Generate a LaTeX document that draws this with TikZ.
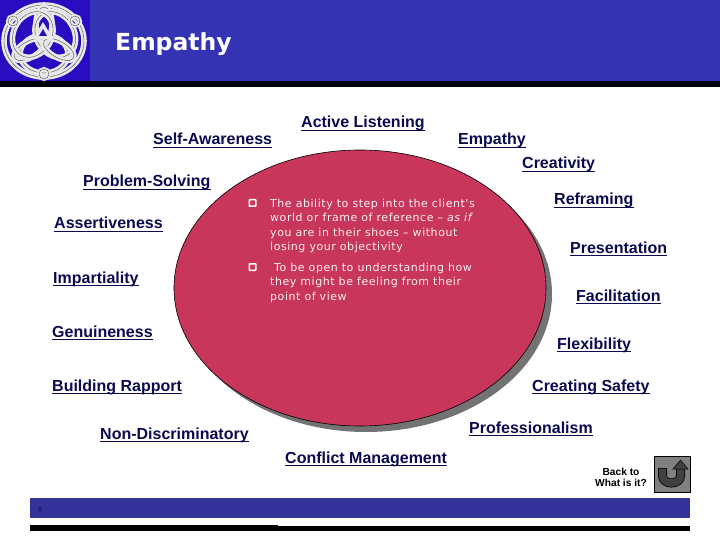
\documentclass[tikz,border=0pt]{standalone}
\usepackage{fontspec}
\setmainfont{Liberation Sans}
\newfontfamily\bodyfont[LetterSpace=5]{DejaVu Sans}
\newfontfamily\headfont{DejaVu Sans}
\usepackage{tikz}
\usetikzlibrary{shapes.geometric,arrows.meta,positioning}
\definecolor{navy}{HTML}{0A0A50}
\definecolor{bar}{HTML}{3333B4}
\definecolor{footbar}{HTML}{333399}
\definecolor{logoblue}{HTML}{2A0CC0}
\definecolor{rose}{HTML}{C9365C}
\definecolor{knot}{HTML}{E8E8E8}

\begin{document}
\begin{tikzpicture}[
    x=1pt, y=-1pt,
    skill/.style={anchor=base west, inner sep=0pt, text=navy, font=\fontsize{16}{18}\selectfont\bfseries},
    para/.style={anchor=north west, inner sep=0pt, align=left, text=white!92!rose, font=\bodyfont\fontsize{11}{14.5}\selectfont},
    tick/.style={draw=white, line width=1.5pt, fill=rose, minimum size=6.5pt, inner sep=0pt, rounded corners=0.5pt},
    cord/.style={draw=knot, line width=2.6pt, double=gray!60!black, double distance=0.4pt}
]
\useasboundingbox (0,0) rectangle (720,540);

% header
\fill[bar] (90,0) rectangle (720,81);
\fill[logoblue] (0,0) rectangle (90,81);
\fill[black] (0,81) rectangle (720,87);
\node[anchor=west, inner sep=0pt, text=white, font=\headfont\fontsize{23.5}{26}\selectfont\bfseries] (title) at (115,44) {Empathy};

% knot
\draw[cord] (44,41) ellipse (40 and 36);
\foreach \r in {0,120,240} {
  \draw[cord, rotate around={\r:(44,41)}] (44,54) ellipse (24 and 19);
  \draw[cord, rotate around={\r:(44,41)}] (44,24) ellipse (8 and 17);
}
\foreach \x/\y in {13/21, 75/21, 44/74}
  \draw[cord, line width=1.8pt] (\x,\y) circle (5);
\fill[knot] (43,22) -- (53,39) -- (33,39) -- cycle;
\fill[logoblue] (43,29) -- (47,36) -- (39,36) -- cycle;

% bubble
\node[ellipse, fill=gray!90!black, minimum width=372pt, minimum height=276pt, inner sep=0pt] (shade) at (366,294) {};
\node[ellipse, draw=black, line width=0.6pt, fill=rose, minimum width=372pt, minimum height=276pt, inner sep=0pt] (core) at (360,288) {};

\node[tick] (tick1) at (252.5,203) {};
\node[tick] (tick2) at (252.5,267) {};
\node[para] (para1) at (270,198.5) {The ability to step into the client's\\world or frame of reference – \textit{as if}\\you are in their shoes – without\\losing your objectivity};
\node[para] (para2) at (270,262.5) {\hspace{4pt}To be open to understanding how\\they might be feeling from their\\point of view};

% skills
\foreach \n/\x/\y/\t in {
  listen/301/128/Active Listening,
  aware/153/145/Self-Awareness,
  empathy/458/145/Empathy,
  create/522/169/Creativity,
  solve/83/187/Problem-Solving,
  frame/554/205/Reframing,
  assert/54/229/Assertiveness,
  present/570/253/Presentation,
  impart/53/283/Impartiality,
  facil/576/301/Facilitation,
  genuine/52/337/Genuineness,
  flex/557/349/Flexibility,
  rapport/52/391/Building Rapport,
  safety/532/391/Creating Safety,
  nondisc/100/439/Non-Discriminatory,
  prof/469/433/Professionalism,
  conflict/285/463/Conflict Management} {
  \node[skill] (\n) at (\x,\y) {\t};
  \draw[navy, line width=1.1pt] ([yshift=-2.2pt]\n.base west) -- ([yshift=-2.2pt]\n.base east);
}

% back button
\node[font=\fontsize{10.2}{11}\selectfont\bfseries, align=center, inner sep=0pt] (back) at (621,477) {Back to\\What is it?};
\node[draw=black, line width=0.7pt, fill=gray, minimum size=36pt, inner sep=0pt] (btn) at (672,474) {};
\draw[black, line width=9pt] (662.5,468) -- (662.5,476) arc[start angle=180, end angle=360, x radius=9, y radius=-7] -- (680.5,467);
\draw[black!75, line width=7.5pt] (662.5,468.5) -- (662.5,476) arc[start angle=180, end angle=360, x radius=9, y radius=-7] -- (680.5,467);
\fill[black!75, draw=black, line width=0.5pt] (673,469) -- (680.5,460) -- (688,469) -- cycle;

% footer
\fill[footbar] (30,498) rectangle (690,518);
\node[font=\fontsize{8}{9}\selectfont, text=navy, inner sep=0pt] (mark) at (40,509) {x};
\fill[black] (30,525) rectangle (278,531);
\fill[black] (278,526) rectangle (690,531);
\end{tikzpicture}
\end{document}
